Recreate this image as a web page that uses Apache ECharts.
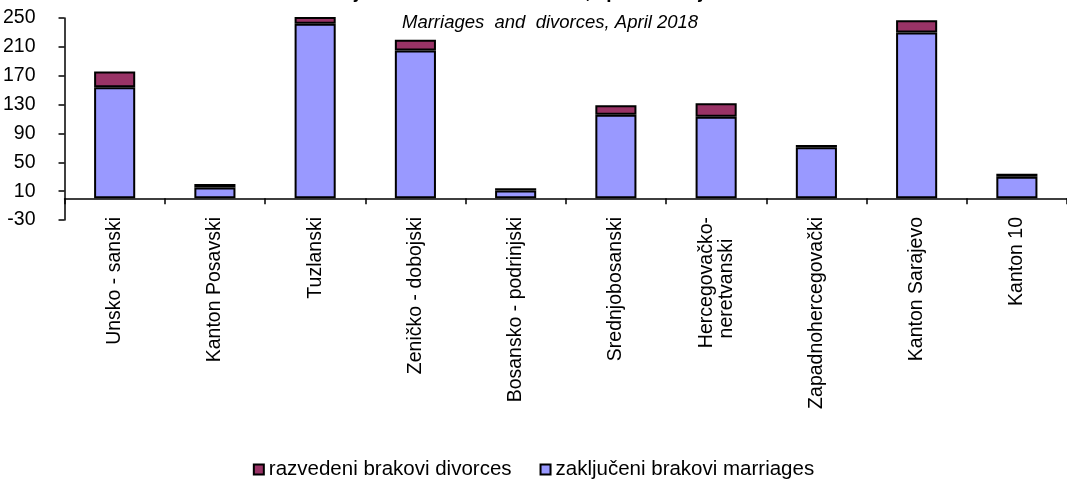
<!DOCTYPE html>
<html>
<head>
<meta charset="utf-8">
<script src="https://cdn.jsdelivr.net/npm/echarts@6/dist/echarts.min.js"></script>
<style>
  html, body { margin: 0; padding: 0; background: #fff; }
  #chart { width: 1067px; height: 495px; }
</style>
</head>
<body>
<div id="chart"></div>
<script>
// kantoni
var categories = ['Unsko - sanski', 'Kanton Posavski', 'Tuzlanski', 'Zeničko - dobojski', 'Bosansko - podrinjski',
    'Srednjobosanski', 'Hercegovačko-\nneretvanski', 'Zapadnohercegovački', 'Kanton Sarajevo', 'Kanton 10'];
// zaključeni brakovi / marriages
var marriages = [154, 15, 242, 205, 11, 116, 113, 71, 230, 30];
// razvedeni brakovi / divorces
var divorces = [22, 5, 25, 15, 3, 13, 19, 3, 17, 4];
var yTicks = [-30, 10, 50, 90, 130, 170, 210, 250];

var font = "'Liberation Sans', Arial, sans-serif";

var chart = echarts.init(document.getElementById('chart'));
var option = {
    animation: false,
    title: [{
        text: 'Zaključeni i razvedeni brakovi, april/travanj 2018',
        left: 'center',
        top: -22,
        textStyle: { fontFamily: font, fontWeight: 'bold', fontSize: 19, color: '#000' }
    }, {
        text: 'Marriages  and  divorces, April 2018',
        left: 397,
        top: 8,
        textStyle: { fontFamily: font, fontStyle: 'italic', fontWeight: 'normal', fontSize: 18.5, color: '#000' }
    }],
    legend: {
        data: ['razvedeni brakovi divorces', 'zaključeni brakovi marriages'],
        top: 454,
        left: 'center',
        itemWidth: 10,
        itemHeight: 10,
        itemGap: 28,
        icon: 'rect',
        textStyle: { fontFamily: font, fontSize: 20.5, color: '#000' }
    },
    grid: {
        left: 63,
        right: -12,
        top: 18,
        bottom: 275
    },
    xAxis: {
        type: 'category',
        data: categories,
        axisLine: { onZero: true, lineStyle: { color: '#000', width: 1.5 } },
        axisTick: { show: true, length: 6, lineStyle: { color: '#000', width: 1.5 } },
        axisLabel: {
            rotate: 90,
            interval: 0,
            margin: -3,
            fontFamily: font,
            fontSize: 19.5,
            color: '#000',
            formatter: function (v) {
                // druga linija pomaknuta kao u originalu
                var parts = v.split('\n');
                if (parts.length == 2) {
                    return parts[0] + '\n' + parts[1] + '\u00a0\u00a0\u00a0\u00a0';
                }
                return v;
            }
        }
    },
    yAxis: {
        type: 'value',
        min: yTicks[0],
        max: yTicks[yTicks.length - 1],
        interval: 40,
        splitLine: { show: false },
        axisLine: { show: true, lineStyle: { color: '#000', width: 1.5 } },
        axisTick: { show: true, length: 6, lineStyle: { color: '#000', width: 1.5 } },
        axisLabel: { fontFamily: font, fontSize: 19.5, color: '#000', margin: 29 }
    },
    series: [{
        name: 'zaključeni brakovi marriages',
        type: 'bar',
        stack: 'total',
        barWidth: '41%',
        data: marriages,
        itemStyle: { color: '#9999FF', borderColor: '#000', borderWidth: 2 }
    }, {
        name: 'razvedeni brakovi divorces',
        type: 'bar',
        stack: 'total',
        barWidth: '41%',
        data: divorces,
        itemStyle: { color: '#993366', borderColor: '#000', borderWidth: 2 }
    }]
};
chart.setOption(option);
</script>
</body>
</html>
